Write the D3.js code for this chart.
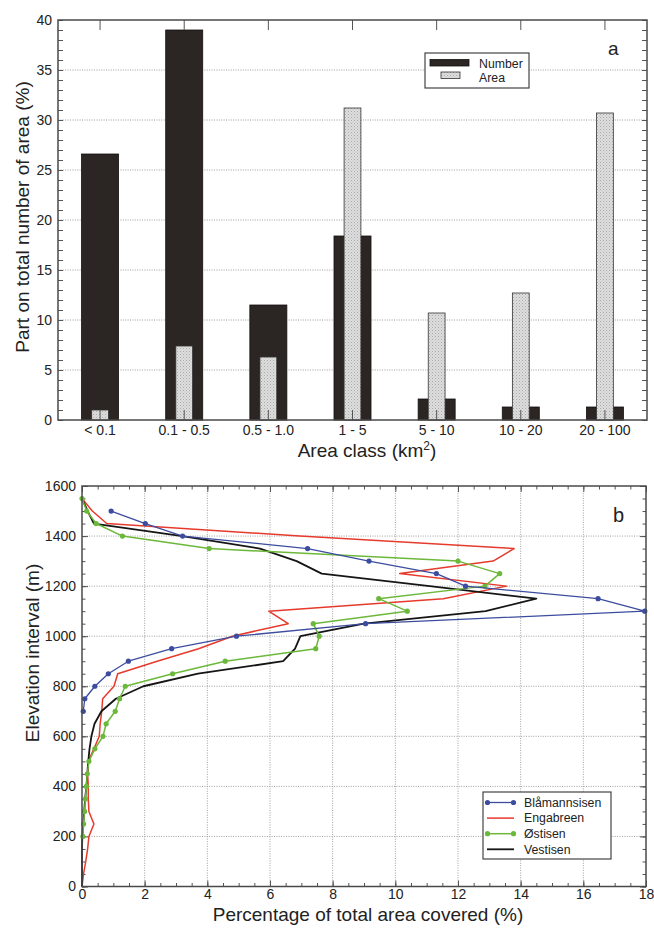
<!DOCTYPE html>
<html>
<head>
<meta charset="utf-8">
<script src="https://cdn.jsdelivr.net/npm/d3@7"></script>
<style>
  body { margin: 0; background: #fff; }
  svg text { font-family: "Liberation Sans", Arial, sans-serif; fill: #222; }
  .tick text { font-size: 14px; }
  .title { font-size: 19px; }
  .legend text { font-size: 12.3px; }
</style>
</head>
<body>
<svg id="chart" width="654" height="928"></svg>
<script>
// ---- panel a: glacier area classes ----
const areaClasses = ['< 0.1', '0.1 - 0.5', '0.5 - 1.0', '1 - 5', '5 - 10', '10 - 20', '20 - 100']
const numberShare = [26.6, 39.0, 11.5, 18.4, 2.1, 1.3, 1.3]
const areaShare = [1.0, 7.4, 6.3, 31.2, 10.7, 12.7, 30.7]
const yTicksA = [0, 5, 10, 15, 20, 25, 30, 35, 40]

// ---- panel b: hypsometry of the four ice caps ----
const elevations = [0, 50, 100, 150, 200, 250, 300, 350, 400, 450, 500, 550, 600, 650, 700, 750,
  800, 850, 900, 950, 1000, 1050, 1100, 1150, 1200, 1250, 1300, 1350, 1400, 1450, 1500, 1550]
const blamannsisen = [null, null, null, null, null, null, null, null, null, null, null, null, null, null,
  0.04, 0.09, 0.41, 0.84, 1.48, 2.86, 4.93, 9.05, 17.96, 16.47, 12.24, 11.31, 9.16, 7.2, 3.21, 2.02, 0.93, null]
const engabreen = [0, 0.05, 0.12, 0.18, 0.22, 0.38, 0.22, 0.2, 0.2, 0.18, 0.2, 0.38, 0.55, 0.58, 0.63, 0.66,
  1.02, 1.14, 2.4, 3.72, 4.8, 6.58, 5.96, 11.53, 13.55, 10.14, 13.12, 13.79, 6.95, 0.79, 0.33, 0]
const ostisen = [null, null, null, null, 0.03, 0.05, 0.08, 0.11, 0.14, 0.17, 0.22, 0.41, 0.67, 0.77, 1.06, 1.2,
  1.38, 2.89, 4.57, 7.46, 7.57, 7.38, 10.38, 9.47, 12.86, 13.33, 12.0, 4.06, 1.29, 0.45, 0.15, 0]
const vestisen = [0, 0, 0, 0, 0.01, 0.04, 0.07, 0.1, 0.14, 0.17, 0.2, 0.24, 0.3, 0.4, 0.62, 1.08,
  1.96, 3.7, 6.42, 6.8, 6.97, 9.0, 12.88, 14.5, 11.1, 7.65, 6.85, 5.68, 3.2, 0.38, 0.18, 0]
const xTicksB = [0, 2, 4, 6, 8, 10, 12, 14, 16, 18]
const yTicksB = [0, 200, 400, 600, 800, 1000, 1200, 1400, 1600]

const svg = d3.select('#chart')
const noDomain = g => g.select('.domain').remove()

// dotted fill for the "Area" bars
const pat = svg.append('defs').append('pattern')
  .attr('id', 'dots').attr('width', 3).attr('height', 3).attr('patternUnits', 'userSpaceOnUse')
pat.append('rect').attr('width', 3).attr('height', 3).attr('fill', '#dedede')
pat.append('rect').attr('width', 1).attr('height', 1).attr('fill', '#a9a9a9')
pat.append('rect').attr('x', 1.5).attr('y', 1.5).attr('width', 1).attr('height', 1).attr('fill', '#bdbdbd')

// ================= panel a =================
const A = { left: 58, right: 647, top: 20, bottom: 420 }
const xA = d3.scaleBand().domain(areaClasses).range([A.left, A.right])
const yA = d3.scaleLinear().domain([0, 40]).range([A.bottom, A.top])
const gA = svg.append('g')

// horizontal dotted grid
gA.append('g').selectAll('line').data(yTicksA.slice(1, -1)).join('line')
  .attr('x1', A.left).attr('x2', A.right)
  .attr('y1', d => yA(d)).attr('y2', d => yA(d))
  .attr('stroke', '#9c9c9c').attr('stroke-dasharray', '1,1.4')

const wNum = xA.bandwidth() * 0.44
const wArea = xA.bandwidth() * 0.2
const cx = c => xA(c) + xA.bandwidth() / 2

gA.append('g').selectAll('rect').data(areaClasses).join('rect')
  .attr('x', c => cx(c) - wNum / 2).attr('width', wNum)
  .attr('y', (c, i) => yA(numberShare[i])).attr('height', (c, i) => yA(0) - yA(numberShare[i]))
  .attr('fill', '#2b2523').attr('stroke', '#141110').attr('stroke-width', 0.8)

gA.append('g').selectAll('rect').data(areaClasses).join('rect')
  .attr('x', c => cx(c) - wArea / 2).attr('width', wArea)
  .attr('y', (c, i) => yA(areaShare[i])).attr('height', (c, i) => yA(0) - yA(areaShare[i]))
  .attr('fill', 'url(#dots)').attr('stroke', '#333').attr('stroke-width', 0.8)

// axes, ticks pointing inwards
gA.append('g').attr('transform', `translate(${A.left},0)`).attr('color', '#555')
  .call(d3.axisLeft(yA).ticks(40).tickSize(-5).tickFormat('')).call(noDomain)
gA.append('g').attr('transform', `translate(${A.left},0)`).attr('color', '#555')
  .call(d3.axisLeft(yA).tickValues(yTicksA).tickSize(-5).tickPadding(6)).call(noDomain)
gA.append('g').attr('transform', `translate(${A.right},0)`).attr('color', '#555')
  .call(d3.axisRight(yA).ticks(40).tickSize(-5).tickFormat('')).call(noDomain)
gA.append('g').attr('transform', `translate(0,${A.top})`).attr('color', '#555')
  .call(d3.axisTop(xA).tickSize(-10).tickFormat('')).call(noDomain)
gA.append('g').attr('transform', `translate(0,${A.bottom})`).attr('color', '#555')
  .call(d3.axisBottom(xA).tickSize(-10).tickPadding(5)).call(noDomain)

gA.append('rect')
  .attr('x', A.left).attr('y', A.top).attr('width', A.right - A.left).attr('height', A.bottom - A.top)
  .attr('fill', 'none').attr('stroke', '#4a4a4a').attr('stroke-width', 1.5)

// titles
gA.append('text').attr('class', 'title')
  .attr('transform', `translate(29,${(A.top + A.bottom) / 2 - 3}) rotate(-90)`)
  .attr('text-anchor', 'middle').text('Part on total number of area (%)')
const xtA = gA.append('text').attr('class', 'title')
  .attr('x', 367).attr('y', 457).attr('text-anchor', 'middle')
xtA.append('tspan').text('Area class (km')
xtA.append('tspan').attr('dy', -7).attr('font-size', 12).text('2')
xtA.append('tspan').attr('dy', 7).text(')')

gA.append('text').attr('x', 608).attr('y', 55).attr('font-size', 19).text('a')

// legend a
const legA = gA.append('g').attr('class', 'legend')
legA.append('rect').attr('x', 425).attr('y', 53).attr('width', 104).attr('height', 35)
  .attr('fill', '#fff').attr('stroke', '#444').attr('stroke-width', 1.2)
legA.append('rect').attr('x', 430).attr('y', 59.5).attr('width', 39).attr('height', 6.5)
  .attr('fill', '#2b2523').attr('stroke', '#141110').attr('stroke-width', 0.8)
legA.append('rect').attr('x', 441).attr('y', 72).attr('width', 19).attr('height', 6.5)
  .attr('fill', 'url(#dots)').attr('stroke', '#333').attr('stroke-width', 0.8)
legA.append('text').attr('x', 479).attr('y', 67.5).text('Number')
legA.append('text').attr('x', 479).attr('y', 82).text('Area')

// ================= panel b =================
const B = { left: 82, right: 646, top: 486, bottom: 886.5 }
const xB = d3.scaleLinear().domain([0, 18]).range([B.left, B.right])
const yB = d3.scaleLinear().domain([0, 1600]).range([B.bottom, B.top])
const gB = svg.append('g')

// dotted grid both ways
gB.append('g').selectAll('line').data(xTicksB.slice(1, -1)).join('line')
  .attr('x1', d => xB(d)).attr('x2', d => xB(d)).attr('y1', B.top).attr('y2', B.bottom)
  .attr('stroke', '#a0a0a0').attr('stroke-dasharray', '1,1.4')
gB.append('g').selectAll('line').data(yTicksB.slice(1, -1)).join('line')
  .attr('x1', B.left).attr('x2', B.right).attr('y1', d => yB(d)).attr('y2', d => yB(d))
  .attr('stroke', '#a0a0a0').attr('stroke-dasharray', '1,1.4')

gB.append('g').attr('transform', `translate(0,${B.bottom})`).attr('color', '#555')
  .call(d3.axisBottom(xB).ticks(36).tickSize(-3.5).tickFormat('')).call(noDomain)
gB.append('g').attr('transform', `translate(0,${B.bottom})`).attr('color', '#555')
  .call(d3.axisBottom(xB).tickValues(xTicksB).tickSize(-6).tickPadding(3).tickFormat(d3.format('d')))
  .call(noDomain)
gB.append('g').attr('transform', `translate(0,${B.top})`).attr('color', '#555')
  .call(d3.axisTop(xB).ticks(36).tickSize(-3.5).tickFormat('')).call(noDomain)
gB.append('g').attr('transform', `translate(0,${B.top})`).attr('color', '#555')
  .call(d3.axisTop(xB).tickValues(xTicksB).tickSize(-6).tickFormat('')).call(noDomain)
gB.append('g').attr('transform', `translate(${B.left},0)`).attr('color', '#555')
  .call(d3.axisLeft(yB).ticks(32).tickSize(-3.5).tickFormat('')).call(noDomain)
gB.append('g').attr('transform', `translate(${B.left},0)`).attr('color', '#555')
  .call(d3.axisLeft(yB).tickValues(yTicksB).tickSize(-6).tickPadding(6).tickFormat(d3.format('d')))
  .call(noDomain)
gB.append('g').attr('transform', `translate(${B.right},0)`).attr('color', '#555')
  .call(d3.axisRight(yB).ticks(32).tickSize(-3.5).tickFormat('')).call(noDomain)
gB.append('g').attr('transform', `translate(${B.right},0)`).attr('color', '#555')
  .call(d3.axisRight(yB).tickValues(yTicksB).tickSize(-6).tickFormat('')).call(noDomain)

const series = [
  { name: 'Engabreen', values: engabreen, color: '#e63a2c', width: 1.5, marker: false },
  { name: 'Vestisen', values: vestisen, color: '#151515', width: 1.8, marker: false },
  { name: 'Østisen', values: ostisen, color: '#6cb83a', width: 1.5, marker: true },
  { name: 'Blåmannsisen', values: blamannsisen, color: '#3c4c9f', width: 1.3, marker: true }
]
const legendOrder = ['Blåmannsisen', 'Engabreen', 'Østisen', 'Vestisen']

const line = d3.line()
  .defined(d => d.v != null)
  .x(d => xB(d.v))
  .y(d => yB(d.e))

series.forEach(s => {
  const pts = elevations.map((e, i) => ({ e, v: s.values[i] }))
  gB.append('path').datum(pts)
    .attr('d', line).attr('fill', 'none')
    .attr('stroke', s.color).attr('stroke-width', s.width).attr('stroke-linejoin', 'round')
  if (s.marker) {
    gB.append('g').selectAll('circle').data(pts.filter(d => d.v != null)).join('circle')
      .attr('cx', d => xB(d.v)).attr('cy', d => yB(d.e)).attr('r', 2.6)
      .attr('fill', s.color)
  }
})

gB.append('rect')
  .attr('x', B.left).attr('y', B.top).attr('width', B.right - B.left).attr('height', B.bottom - B.top)
  .attr('fill', 'none').attr('stroke', '#4a4a4a').attr('stroke-width', 1.5)

gB.append('text').attr('class', 'title')
  .attr('transform', `translate(39,653) rotate(-90)`)
  .attr('text-anchor', 'middle').text('Elevation interval (m)')
gB.append('text').attr('class', 'title')
  .attr('x', 368).attr('y', 921).attr('text-anchor', 'middle')
  .text('Percentage of total area covered (%)')

gB.append('text').attr('x', 613).attr('y', 522).attr('font-size', 20).text('b')

// legend b
const legB = gB.append('g').attr('class', 'legend')
legB.append('rect').attr('x', 483).attr('y', 792).attr('width', 128).attr('height', 67)
  .attr('fill', '#fff').attr('stroke', '#444').attr('stroke-width', 1.2)
legendOrder.forEach((name, i) => {
  const s = series.find(d => d.name === name)
  const ly = 802.5 + i * 15.6
  legB.append('line').attr('x1', 487).attr('x2', 514).attr('y1', ly).attr('y2', ly)
    .attr('stroke', s.color).attr('stroke-width', s.width)
  if (s.marker) {
    legB.selectAll(null).data([487.5, 513.5]).join('circle')
      .attr('cx', d => d).attr('cy', ly).attr('r', 2.6).attr('fill', s.color)
  }
  legB.append('text').attr('x', 524).attr('y', ly + 4.3).text(name)
})
</script>
</body>
</html>
